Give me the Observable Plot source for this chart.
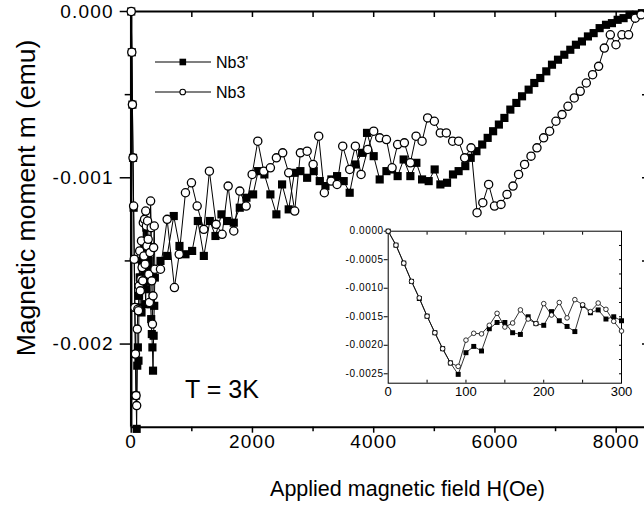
<!DOCTYPE html>
<html><head><meta charset="utf-8">
<script src="https://cdn.jsdelivr.net/npm/d3@7"></script>
<script src="https://cdn.jsdelivr.net/npm/@observablehq/plot@0.6"></script>
<style>
html,body{margin:0;padding:0;background:#fff;overflow:hidden;}
#wrap{position:relative;width:644px;height:506px;font-family:"Liberation Sans",Arial,sans-serif;}
#wrap svg{position:absolute;overflow:visible;}
.main g[aria-label="x-axis tick label"] text,.main g[aria-label="y-axis tick label"] text{letter-spacing:1.2px;}
.inset g[aria-label="y-axis tick label"] text{letter-spacing:0.6px;}
</style></head><body><div id="wrap"></div>
<script>
// ---- data (magnetic moment in units of 1e-3 emu) ----
const insetH = [0,10,20,30,40,50,60,70,80,90,100,110,120,130,140,150,160,170,180,190,200,210,220,230,240,250,260,270,280,290,300];
const insetNb3p = [0,-0.245,-0.56,-0.88,-1.18,-1.49,-1.78,-2.06,-2.31,-2.51,-2.13,-2.02,-2.10,-1.71,-1.60,-1.60,-1.78,-1.81,-1.50,-1.62,-1.65,-1.41,-1.57,-1.67,-1.76,-1.30,-1.43,-1.38,-1.54,-1.50,-1.57];
const insetNb3 = [0,-0.245,-0.56,-0.88,-1.17,-1.49,-1.78,-2.06,-2.31,-2.37,-1.91,-1.79,-1.80,-1.65,-1.44,-1.68,-1.61,-1.38,-1.54,-1.62,-1.27,-1.47,-1.25,-1.52,-1.20,-1.29,-1.41,-1.26,-1.37,-1.58,-1.75];

const nb3pHighH = [310,320,330,340,350,360,370,380,390,483,593,702,796,895,1005,1099,1198,1297,1390,1489,1582,1692,1791,1901,2011,2094,2197,2296,2395,2489,2598,2692,2791,2902,3011,3110,3204,3302,3396,3505,3604,3698,3809,3890,4000,4099,4210,4303,4395,4494,4605,4704,4798,4907,5006,5100,5210,5308,5401,5511,5600,5695,5790,5880,5970,6065,6156,6254,6353,6447,6556,6649,6748,6847,6941,7040,7144,7243,7336,7435,7534,7628,7727,7832,7930,8024,8122,8220,8326,8425];
const nb3pHighM = [-1.62,-1.76,-1.85,-1.94,-2.02,-2.16,-1.95,-1.77,-1.60,-1.50,-1.47,-1.23,-1.41,-1.46,-1.44,-1.26,-1.47,-1.26,-1.35,-1.22,-1.26,-1.27,-1.18,-1.12,-1.10,-0.96,-0.98,-1.10,-1.22,-1.04,-1.19,-0.97,-0.96,-1.00,-0.96,-1.02,-1.05,-1.01,-0.99,-1.02,-1.09,-0.92,-0.85,-0.73,-0.87,-1.01,-0.96,-0.95,-0.99,-0.89,-0.99,-0.91,-1.01,-1.02,-0.95,-1.04,-1.03,-0.98,-0.96,-0.93,-0.88,-0.84,-0.80,-0.76,-0.72,-0.68,-0.64,-0.59,-0.55,-0.51,-0.47,-0.43,-0.40,-0.36,-0.32,-0.29,-0.26,-0.23,-0.20,-0.18,-0.15,-0.13,-0.10,-0.08,-0.07,-0.05,-0.04,-0.02,-0.02,-0.01];

const nb3HighH = [310,320,330,340,350,360,370,380,390,483,593,713,792,895,994,1088,1198,1290,1401,1500,1599,1692,1791,1896,1995,2088,2186,2296,2395,2499,2598,2697,2791,2902,3001,3093,3186,3297,3396,3489,3604,3698,3792,3901,4000,4099,4210,4303,4395,4506,4605,4699,4798,4890,5000,5099,5198,5302,5401,5500,5606,5705,5800,5896,5993,6100,6199,6298,6390,6489,6595,6693,6803,6902,7006,7107,7205,7308,7407,7507,7611,7710,7804,7903,7996,8095,8204,8314,8410];
const nb3HighM = [-1.45,-1.14,-1.30,-1.62,-1.88,-1.71,-1.42,-1.29,-1.55,-1.55,-1.25,-1.66,-1.46,-1.09,-1.03,-1.17,-1.31,-0.96,-1.28,-1.34,-1.05,-1.32,-1.08,-1.17,-0.98,-0.78,-0.96,-0.94,-0.88,-0.85,-0.97,-1.20,-0.85,-0.84,-0.92,-0.75,-1.09,-1.02,-1.04,-0.81,-0.95,-0.81,-0.98,-0.83,-0.72,-0.76,-0.77,-0.94,-0.80,-0.79,-0.91,-0.75,-0.78,-0.64,-0.66,-0.73,-0.73,-0.78,-0.78,-0.88,-0.82,-1.21,-1.15,-1.04,-1.17,-1.16,-1.10,-1.05,-0.98,-0.92,-0.87,-0.82,-0.76,-0.72,-0.66,-0.62,-0.57,-0.52,-0.48,-0.43,-0.38,-0.33,-0.22,-0.14,-0.20,-0.14,-0.14,-0.04,-0.02];

const seriesNames = ["Nb3'", "Nb3"];

// ticks
const mainXTicks = [0,2000,4000,6000,8000];
const mainXMinor = [1000,3000,5000,7000];
const mainXTop = [1000,2000,3000,4000,5000,6000,7000,8000];
const mainYTicks = [0,-0.001,-0.002];
const mainYMinor = [-0.0005,-0.0015];
const mainYRight = [-0.0005,-0.001,-0.0015,-0.002];
const insetXTicks = [0,100,200,300];
const insetXInner = [50,100,150,200,250];
const insetYTicks = [0,-0.0005,-0.001,-0.0015,-0.002,-0.0025];
const insetYInner = [-0.00025,-0.0005,-0.00075,-0.001,-0.00125,-0.0015,-0.00175,-0.002,-0.00225,-0.0025];

// ---- tables ----
const toRows = (H, M) => H.map((h, i) => ({H: h, m: M[i] / 1000}));
const mainSq = toRows(insetH.concat(nb3pHighH), insetNb3p.concat(nb3pHighM));
const mainCi = toRows(insetH.concat(nb3HighH), insetNb3.concat(nb3HighM));
const insSq = toRows(insetH, insetNb3p);
const insCi = toRows(insetH, insetNb3);
const dash = s => s.replace("\u2212", "-");
const FONT = "Liberation Sans, Arial, sans-serif";

const main = Plot.plot({
  className: "main",
  width: 644, height: 506,
  marginLeft: 130.7, marginRight: -2, marginTop: 11, marginBottom: 79.3,
  x: {domain: [0, 8500], label: null},
  y: {domain: [-0.0025, 0], label: null},
  style: {background: "none", overflow: "visible", fontFamily: FONT, color: "black"},
  marks: [
    Plot.axisX(mainXTicks, {anchor: "bottom", tickSize: 6, tickPadding: 1.5, fontSize: 19, strokeWidth: 1.5, tickFormat: d => String(d), label: null}),
    Plot.axisX(mainXMinor, {anchor: "bottom", tickSize: 4.5, strokeWidth: 1.5, tickFormat: () => "", label: null}),
    Plot.axisX(mainXTop, {anchor: "top", tickSize: -5, strokeWidth: 1.5, tickFormat: () => "", label: null}),
    Plot.axisY(mainYTicks, {anchor: "left", tickSize: 11, tickPadding: 6.5, fontSize: 19, strokeWidth: 1.5, tickFormat: d => dash(d3.format(".3f")(d)), label: null}),
    Plot.axisY(mainYMinor, {anchor: "left", tickSize: 6, strokeWidth: 1.5, tickFormat: () => "", label: null}),
    Plot.axisY(mainYRight, {anchor: "right", tickSize: -5, strokeWidth: 1.5, tickFormat: () => "", label: null}),
    Plot.ruleX([0], {stroke: "black", strokeWidth: 2.5}),
    Plot.ruleX([8500], {stroke: "black", strokeWidth: 2}),
    Plot.ruleY([0, -0.0025], {stroke: "black", strokeWidth: 2}),
    Plot.line(mainSq, {x: "H", y: "m", stroke: "black", strokeWidth: 1}),
    Plot.line(mainCi, {x: "H", y: "m", stroke: "black", strokeWidth: 1}),
    Plot.dot(mainSq, {x: "H", y: "m", symbol: "square", r: 4.6, fill: "black", stroke: "none"}),
    Plot.dot(mainCi, {x: "H", y: "m", symbol: "circle", r: 4.1, fill: "white", stroke: "black", strokeWidth: 1.3})
  ]
});
main.style.left = "0px"; main.style.top = "0px";
document.getElementById("wrap").appendChild(main);

// labels, legend, annotation (layout)
const ms = d3.select(main);
ms.append("text").text("Applied magnetic field H(Oe)")
  .attr("x", 407.5).attr("y", 495.5).attr("text-anchor", "middle")
  .attr("font-size", 21.5).attr("font-family", FONT).attr("fill", "black");
ms.append("text").text("Magnetic moment m (emu)")
  .attr("transform", "translate(34.5,198) rotate(-90)").attr("text-anchor", "middle")
  .attr("font-size", 26.5).attr("font-family", FONT).attr("fill", "black");
ms.append("text").text("T = 3K")
  .attr("x", 185).attr("y", 398).attr("text-anchor", "start")
  .attr("font-size", 25).attr("font-family", FONT).attr("fill", "black");

const leg = ms.append("g");
[62, 92].forEach((yy, i) => {
  leg.append("line").attr("x1", 155).attr("x2", 211).attr("y1", yy).attr("y2", yy).attr("stroke", "black").attr("stroke-width", 1.2);
  if (i === 0) leg.append("rect").attr("x", 179.5).attr("y", yy - 3.3).attr("width", 6.6).attr("height", 6.6).attr("fill", "black");
  else leg.append("circle").attr("cx", 182.7).attr("cy", yy).attr("r", 2.8).attr("fill", "white").attr("stroke", "black").attr("stroke-width", 1.1);
  leg.append("text").text(seriesNames[i]).attr("x", 216).attr("y", yy).attr("dy", "0.36em").attr("text-anchor", "start")
    .attr("font-size", 16).attr("font-family", FONT).attr("fill", "black");
});

const inset = Plot.plot({
  className: "inset",
  width: 300, height: 190,
  marginLeft: 57.7, marginRight: 9, marginTop: 10.7, marginBottom: 27.3,
  x: {domain: [0, 300], label: null},
  y: {domain: [-0.002665, 0], label: null},
  style: {background: "none", overflow: "visible", fontFamily: FONT, color: "black"},
  marks: [
    Plot.frame({stroke: "black", strokeWidth: 1}),
    Plot.axisX(insetXTicks, {anchor: "bottom", tickSize: 0, tickPadding: 3.5, fontSize: 13, tickFormat: d => String(d), label: null}),
    Plot.axisX(insetXInner, {anchor: "bottom", tickSize: -3, tickFormat: () => "", label: null}),
    Plot.axisX(insetXInner, {anchor: "top", tickSize: -3, tickFormat: () => "", label: null}),
    Plot.axisY(insetYTicks, {anchor: "left", tickSize: 4, tickPadding: 0.5, fontSize: 10, tickFormat: d => dash(d3.format(".4f")(d)), label: null}),
    Plot.axisY(insetYInner, {anchor: "right", tickSize: -3, tickFormat: () => "", label: null}),
    Plot.line(insSq, {x: "H", y: "m", stroke: "black", strokeWidth: 0.8}),
    Plot.line(insCi, {x: "H", y: "m", stroke: "black", strokeWidth: 0.8}),
    Plot.dot(insSq, {x: "H", y: "m", symbol: "square", r: 2.8, fill: "black", stroke: "none"}),
    Plot.dot(insCi, {x: "H", y: "m", symbol: "circle", r: 2.3, fill: "white", stroke: "black", strokeWidth: 0.8})
  ]
});
inset.style.left = "330px"; inset.style.top = "220px";
document.getElementById("wrap").appendChild(inset);
</script>
</body></html>
